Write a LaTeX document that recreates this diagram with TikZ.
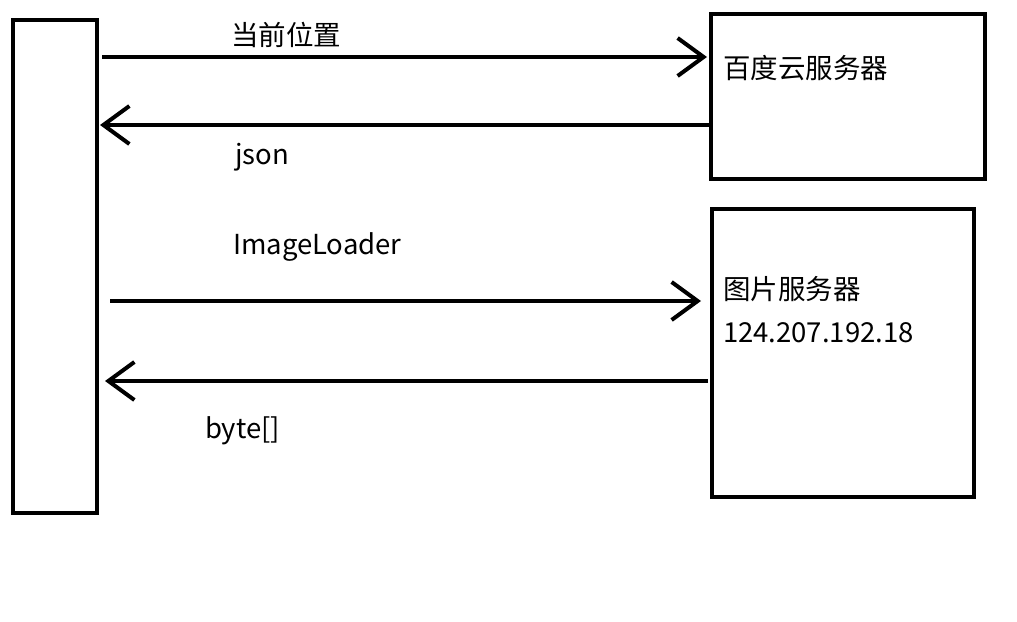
\documentclass[tikz,border=0pt]{standalone}
\usepackage{fontspec}
\setmainfont{Noto Sans CJK SC}
\usetikzlibrary{arrows.meta}

\begin{document}
\begin{tikzpicture}[x=1pt,y=-1pt,line width=4pt,
    barb/.style={-{Straight Barb[length=26pt,width=38pt,line width=4pt]}},
    lbl/.style={font=\fontsize{27.5}{32}\selectfont,inner sep=0pt,anchor=west}]

      \useasboundingbox (0,0) rectangle (1017,621);

      % boxes
      \draw (13,20) rectangle (97,513);
      \draw (711,14) rectangle (985,179);
      \draw (712,209) rectangle (974,497);

      % ends of the arrows
      \coordinate (a1) at (102,57);  \coordinate (b1) at (707,57);
      \coordinate (a2) at (100,125); \coordinate (b2) at (710,125);
      \coordinate (a3) at (110,301); \coordinate (b3) at (701,301);
      \coordinate (a4) at (105,381); \coordinate (b4) at (708,381);

      \begin{scope}[every node/.style={lbl}]
        \node (cur)  at (229,35)  {当前位置};
        \node (json) at (233,157) {json};
        \node (il)   at (231,247) {ImageLoader};
        \node (byte) at (203,431) {byte[]};
        \node (bd)   at (721,68)  {百度云服务器};
        \node (tp)   at (721,289) {图片服务器};
        \node (ip)   at (721,333) {124.207.192.18};
      \end{scope}

      \draw[barb] (a1) -- (b1);
      \draw[barb] (b2) -- (a2);
      \draw[barb] (a3) -- (b3);
      \draw[barb] (b4) -- (a4);

    \end{tikzpicture}
\end{document}
